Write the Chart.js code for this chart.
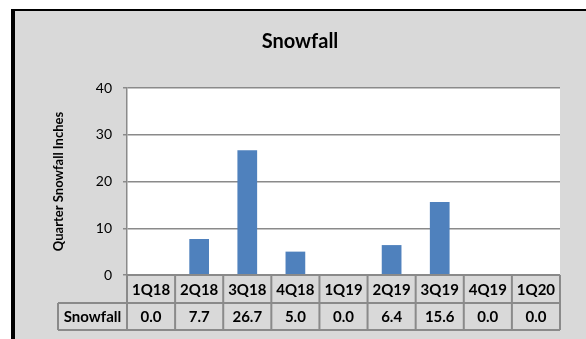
<!DOCTYPE html>
<html>
<head>
<meta charset="utf-8">
<script src="https://cdn.jsdelivr.net/npm/chart.js@4"></script>
<style>
  html, body { margin: 0; padding: 0; background: #ffffff; }
  #wrap { width: 586px; height: 339px; }
</style>
</head>
<body>
<div id="wrap"><canvas id="snowChart" width="586" height="339"></canvas></div>
<script>
// данные графика
const quarters = ['1Q18', '2Q18', '3Q18', '4Q18', '1Q19', '2Q19', '3Q19', '4Q19', '1Q20'];
const snowfall = [0.0, 7.7, 26.7, 5.0, 0.0, 6.4, 15.6, 0.0, 0.0];
const seriesName = 'Snowfall';
const yTicks = [0, 10, 20, 30, 40];

const FONT = 'Lato, "Open Sans", sans-serif';
const GRID = '#8a8a8a';

// фон, рамка и таблица данных под осью
const frameAndTable = {
  id: 'frameAndTable',
  beforeDraw(chart) {
    const { ctx, chartArea: a } = chart;
    ctx.save();
    ctx.fillStyle = '#ffffff';
    ctx.fillRect(0, 0, chart.width, chart.height);
    ctx.fillStyle = '#d9d9d9';
    ctx.fillRect(11, 9, chart.width - 11, chart.height - 9);
    ctx.fillStyle = '#000000';
    ctx.fillRect(11, 9, chart.width - 11, 2);
    ctx.fillRect(11, 9, 4, chart.height - 9);
    ctx.fillStyle = '#ffffff';
    ctx.fillRect(a.left, a.top, a.right - a.left, a.bottom - a.top);
    ctx.restore();
  },
  afterDraw(chart) {
    const { ctx, chartArea: a, scales: { x } } = chart;
    const row1 = a.bottom, row2 = a.bottom + 28, row3 = a.bottom + 55;
    const labelLeft = 58;
    const half = (x.getPixelForTick(1) - x.getPixelForTick(0)) / 2;
    ctx.save();
    ctx.strokeStyle = GRID;
    ctx.lineWidth = 2;
    ctx.beginPath();
    ctx.moveTo(a.left, row1); ctx.lineTo(a.right, row1);
    ctx.moveTo(labelLeft, row2); ctx.lineTo(a.right, row2);
    ctx.moveTo(labelLeft, row3); ctx.lineTo(a.right, row3);
    ctx.moveTo(labelLeft, row2); ctx.lineTo(labelLeft, row3);
    for (let i = 0; i <= quarters.length; i++) {
      const px = i < quarters.length ? x.getPixelForTick(i) - half : a.right;
      ctx.moveTo(px, row1); ctx.lineTo(px, row3);
    }
    ctx.stroke();

    ctx.fillStyle = '#000000';
    ctx.font = 'bold 15px ' + FONT;
    ctx.textAlign = 'center';
    ctx.textBaseline = 'middle';
    quarters.forEach((q, i) => {
      const cx = x.getPixelForTick(i);
      ctx.fillText(q, cx, (row1 + row2) / 2 + 1);
      ctx.fillText(snowfall[i].toFixed(1), cx, (row2 + row3) / 2 + 1);
    });
    ctx.fillText(seriesName, (labelLeft + a.left) / 2, (row2 + row3) / 2 + 1);
    ctx.restore();
  }
};

new Chart(document.getElementById('snowChart'), {
  type: 'bar',
  data: {
    labels: quarters,
    datasets: [{
      label: seriesName,
      data: snowfall,
      backgroundColor: '#4f81bd',
      borderWidth: 0,
      categoryPercentage: 1.0,
      barPercentage: 0.41
    }]
  },
  options: {
    responsive: false,
    animation: false,
    layout: { padding: { left: 40, right: 26, top: 0, bottom: 0 } },
    plugins: {
      legend: { display: false },
      tooltip: { enabled: false },
      title: {
        display: true,
        text: 'Snowfall',
        color: '#000000',
        font: { family: FONT, size: 20, weight: 'bold', lineHeight: 1.2 },
        padding: { top: 30, bottom: 34 }
      }
    },
    scales: {
      x: {
        grid: { display: false },
        border: { display: false },
        ticks: { display: false },
        afterFit: s => { s.height = 64; }
      },
      y: {
        min: 0,
        max: 40,
        afterBuildTicks: s => { s.ticks = yTicks.map(v => ({ value: v })); },
        afterFit: s => { s.width = 87; },
        grid: { color: GRID, lineWidth: 1.5, tickLength: 4 },
        border: { color: GRID, width: 1.5 },
        ticks: {
          color: '#000000',
          padding: 11,
          font: { family: FONT, size: 14 }
        },
        title: {
          display: true,
          text: 'Quarter Snowfall Inches',
          color: '#000000',
          font: { family: FONT, size: 13, weight: 'bold', lineHeight: 1.2 },
          padding: { top: 10.7, bottom: 0 }
        }
      }
    }
  },
  plugins: [frameAndTable]
});
</script>
</body>
</html>
